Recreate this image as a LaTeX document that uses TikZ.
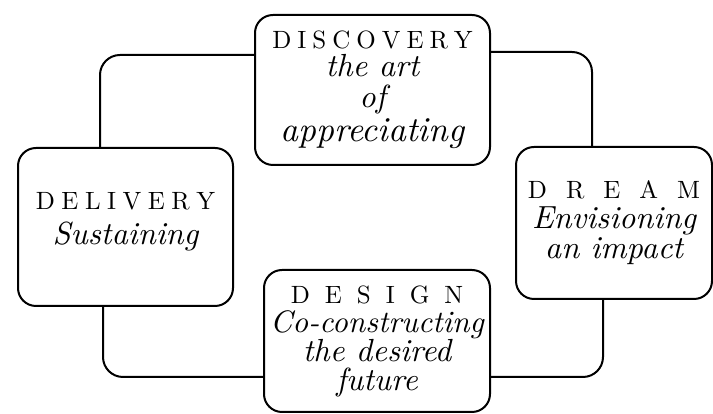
\documentclass[tikz,border=0pt]{standalone}
\usepackage{fontspec}
\setmainfont{lmroman10-regular.otf}[ItalicFont=lmroman10-italic.otf]
\usepackage{tikz}
\usetikzlibrary{calc,positioning}

\makeatletter
\newcommand{\spreadname}[2]{{\fontsize{25}{29}\upshape\selectfont\def\sp@gap{#1}%
  \@tfor\sp@ch:=#2\do{\sp@ch\kern\sp@gap\relax}\kern-\sp@gap\relax}}
\makeatother

\begin{document}
\begin{tikzpicture} [x=1pt, y=1pt, black, line width=2pt,
	   every node/.style={font=\fontsize{32}{29}\itshape\selectfont},
	   stage/.style 2 args = {rectangle, draw, rounded corners=18pt,
	                          minimum width=#1, minimum height=#2,
	                          align=center, inner sep=0pt},
	   cycleline/.style = {rounded corners=20pt}]
	\useasboundingbox (0,0) rectangle (713,414);

	%% Stages
	\node [stage={235pt}{150pt}] (discovery) at (372.5,324)
	      {\spreadname{6pt}{DISCOVERY}\\[-1pt] the art\\[2pt] of\\[4pt] \fontsize{35}{29}\selectfont appreciating};
	\node [stage={196pt}{152pt}] (dream) at (614,191)
	      {\spreadname{19pt}{DREAM}\\[1pt] Envisioning\\[1pt] an impact};
	\node [stage={226pt}{142pt}] (design) at (377,73)
	      {\spreadname{15pt}{DESIGN}\\ \fontsize{31}{29}\selectfont Co-constructing\\ the desired\\ future};
	\node [stage={215pt}{158pt}] (delivery) at (125.5,187)
	      {\spreadname{6.5pt}{DELIVERY}\\[6pt] Sustaining\hspace*{8pt}\\[-11pt] \mbox{}};

	%% Cycle
	\draw[cycleline] ($(discovery.east)+(0,38)$) -| ($(dream.north)+(-22,0)$);
	\draw[cycleline] ($(dream.south)+(-11,0)$) |- ($(design.east)+(0,-36)$);
	\draw[cycleline] ($(design.west)+(0,-36)$) -| ($(delivery.south)+(-22.5,0)$);
	\draw[cycleline] ($(delivery.north)+(-25.5,0)$) |- ($(discovery.west)+(0,35)$);
\end{tikzpicture}
\end{document}
